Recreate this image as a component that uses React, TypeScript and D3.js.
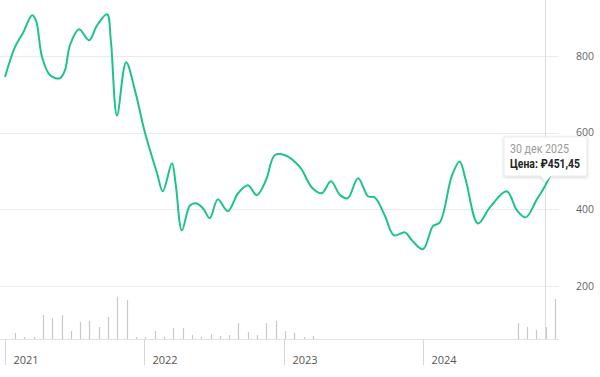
import React from "react";
import * as d3 from "d3";

const priceDates = [
  "2021-01-01","2021-01-27","2021-02-17","2021-03-13","2021-03-23","2021-04-08","2021-04-29","2021-05-25","2021-06-07","2021-06-20",
  "2021-07-14","2021-08-09","2021-08-30","2021-09-25","2021-10-05","2021-10-21","2021-11-14","2021-12-07","2022-01-02","2022-02-03",
  "2022-02-18","2022-03-14","2022-03-24","2022-04-09","2022-04-30","2022-05-16","2022-06-03","2022-06-21","2022-07-12","2022-08-07",
  "2022-09-03","2022-09-29","2022-10-22","2022-11-15","2022-12-08","2023-01-04","2023-02-12","2023-03-15","2023-04-10","2023-05-04",
  "2023-05-28","2023-06-17","2023-07-14","2023-08-09","2023-08-27","2023-09-22","2023-10-16","2023-11-14","2023-12-02","2023-12-31",
  "2024-01-26","2024-02-13","2024-03-16","2024-04-05","2024-04-21","2024-05-23","2024-06-23","2024-08-06","2024-09-02","2024-09-25",
  "2024-10-24","2024-11-14","2024-11-30",
];
const priceValues = [
  745, 823, 860, 906, 893, 797, 750, 742, 763, 828,
  870, 841, 880, 909, 841, 645, 784, 711, 601, 494,
  447, 520, 463, 345, 410, 416, 403, 377, 426, 395,
  442, 463, 437, 476, 541, 541, 510, 457, 442, 473,
  437, 429, 481, 434, 431, 384, 332, 340, 319, 296,
  356, 366, 489, 525, 476, 363, 405, 447, 397, 379,
  426, 460, 494,
];
const volumeValues = [
  6, 2, 2, 24, 21, 24, 8, 17, 18, 12,
  22, 42, 39, 2, 2, 8, 2, 11, 11, 4,
  2, 5, 3, 4, 16, 7, 4, 16, 18, 8,
  6, 2, 3, 0, 0, 0, 0, 0, 0, 0,
  0, 0, 0, 0, 0, 0, 0, 0, 0, 0,
  0, 0, 0, 0, 16, 12, 9, 12, 40,
];
const yTicks = [200, 400, 600, 800];
const yearTicks = ["2021-01-01", "2022-01-01", "2023-01-01", "2024-01-01"];
const tooltipDate = "30 дек 2025";
const tooltipPrice = "Цена: ₽451,45";
const hoverDate = "2024-11-14";

const W = 600, H = 377;
const parse = d3.timeParse("%Y-%m-%d");

export default function App() {
  const data = priceDates.map((d, i) => ({ date: parse(d) as Date, value: priceValues[i] }));
  const x = d3.scaleTime()
    .domain([parse("2021-01-01") as Date, parse("2024-11-30") as Date])
    .range([5, 551]);
  const y = d3.scaleLinear().domain([200, 800]).range([286, 56]);
  const xv = d3.scaleLinear().domain([0, volumeValues.length - 1]).range([15, 555]);
  const yv = d3.scaleLinear().domain([0, 42]).range([339, 297]);
  const line = d3.line<{ date: Date; value: number }>()
    .x((d) => x(d.date))
    .y((d) => y(d.value))
    .curve(d3.curveCatmullRom.alpha(0.5));
  const hx = Math.round(x(parse(hoverDate) as Date)) + 0.5;
  const gridRight = 559;
  const baseY = 339;

  return (
    <svg width={W} height={H} style={{ position: "absolute", left: 0, top: 0, background: "#fff" }}
      fontFamily="'Open Sans', sans-serif">
      <defs>
        <filter id="sh" x="-20%" y="-30%" width="140%" height="160%">
          <feDropShadow dx="0" dy="1" stdDeviation="1.5" floodColor="#000" floodOpacity="0.18" />
        </filter>
      </defs>
      {yTicks.map((t) => (
        <g key={t}>
          <line x1={0} x2={gridRight} y1={Math.round(y(t)) + 0.5} y2={Math.round(y(t)) + 0.5} stroke="#ebebeb" strokeWidth={1} />
          <text x={576} y={y(t)} dy="0.35em" fontSize={10.5} fill="#666">{t}</text>
        </g>
      ))}
      <line x1={hx} x2={hx} y1={0} y2={baseY} stroke="#dcdcdc" strokeWidth={1} />
      {volumeValues.map((v, i) => v > 0 ? (
        <line key={i} x1={Math.round(xv(i)) + 0.5} x2={Math.round(xv(i)) + 0.5} y1={baseY} y2={yv(v)} stroke="#c8c8c8" strokeWidth={1.2} />
      ) : null)}
      <line x1={0} x2={gridRight} y1={baseY + 0.5} y2={baseY + 0.5} stroke="#e3e3e3" strokeWidth={1} />
      {yearTicks.map((t) => {
        const px = Math.round(x(parse(t) as Date)) + 0.5;
        return (
          <g key={t}>
            <line x1={px} x2={px} y1={baseY} y2={365} stroke="#d6d6d6" strokeWidth={1} />
            <text x={px + 8} y={360} dy="0.35em" fontSize={11} fill="#555">{t.slice(0, 4)}</text>
          </g>
        );
      })}
      <path d={line(data) || ""} fill="none" stroke="#1ec38b" strokeWidth={2} strokeLinejoin="round" />
      <g filter="url(#sh)">
        <path d={`M504,137 H587 V176 H${hx + 5} L${hx},182 L${hx - 5},176 H504 Z`} fill="#fff" stroke="#e4e4e4" strokeWidth={0.8} />
      </g>
      <text x={510} y={153} fontSize={13} fill="#9a9a9a" fontFamily="Roboto, sans-serif" textLength={59} lengthAdjust="spacingAndGlyphs">{tooltipDate}</text>
      <text x={510} y={168} fontSize={12} fontWeight="bold" fill="#222" fontFamily="Roboto, sans-serif" textLength={70} lengthAdjust="spacingAndGlyphs">{tooltipPrice}</text>
    </svg>
  );
}
